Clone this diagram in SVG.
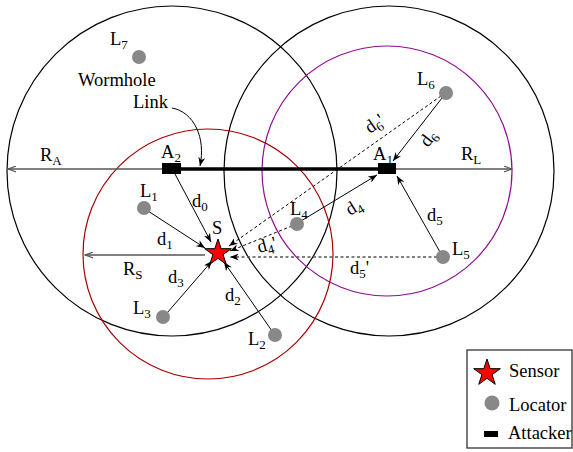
<svg xmlns="http://www.w3.org/2000/svg" width="573" height="452" viewBox="0 0 573 452">
<style>
text{font-family:"Liberation Serif","Times New Roman",serif;font-size:18.5px;fill:#000}
.sub{font-size:13px}
.ring{fill:none;stroke-width:1.2}
.loc{fill:#888}
.att{fill:#000}
.conn{stroke:#000;stroke-width:1;fill:none;marker-end:url(#arr)}
.dash{stroke:#000;stroke-width:1;fill:none;stroke-dasharray:3,2.5;marker-end:url(#arr)}
.radius{stroke:#555;stroke-width:1.5;fill:none;marker-end:url(#open)}
</style>
<defs>
<marker id="arr" viewBox="0 0 10 8" refX="10" refY="4" markerWidth="9" markerHeight="7" orient="auto" markerUnits="userSpaceOnUse">
<path d="M0,0 L10,4 L0,8 L3,4 Z" fill="#000"/>
</marker>
<marker id="open" viewBox="0 0 10 8" refX="9.5" refY="4" markerWidth="9" markerHeight="7" orient="auto" markerUnits="userSpaceOnUse">
<path d="M0,0.5 L9.5,4 L0,7.5" fill="none" stroke="#555" stroke-width="1.3"/>
</marker>
<path id="star" d="M0,-14 L3.14,-4.33 L13.31,-4.33 L5.09,1.65 L8.23,11.33 L0,5.35 L-8.23,11.33 L-5.09,1.65 L-13.31,-4.33 L-3.14,-4.33 Z" fill="#f00" stroke="#000" stroke-width="1"/>
</defs>
<rect width="573" height="452" fill="#fff"/>

<g id="ranges">
<circle class="ring" cx="172" cy="171" r="165" stroke="#000"/>
<circle class="ring" cx="389" cy="171" r="165" stroke="#000"/>
<circle class="ring" cx="387" cy="171" r="125" stroke="#8e108e"/>
<circle class="ring" cx="208" cy="254" r="125" stroke="#a80000"/>
</g>

<g id="connectors">
<line x1="170" y1="169" x2="8" y2="169" class="radius"/>
<line x1="390" y1="169" x2="512" y2="169" class="radius"/>
<line x1="205" y1="255" x2="85" y2="255" class="radius"/>
<line x1="172" y1="169" x2="387" y2="169" stroke="#000" stroke-width="3.5"/>
<path d="M172,108 C194,112 206,138 200,166" class="conn"/>
<line x1="175" y1="174" x2="211" y2="242" class="conn"/>
<line x1="148" y1="211" x2="205" y2="248" class="conn"/>
<line x1="167" y1="313" x2="212" y2="261" class="conn"/>
<line x1="272" y1="331" x2="224" y2="262" class="conn"/>
<line x1="441" y1="96" x2="229" y2="246" class="dash"/>
<line x1="292" y1="226" x2="230" y2="251" class="dash"/>
<line x1="437" y1="257" x2="230" y2="257" class="dash" style="stroke:#555;stroke-width:1.5"/>
<line x1="442" y1="98" x2="393" y2="161" class="conn"/>
<line x1="301" y1="221" x2="377" y2="175" class="conn"/>
<line x1="440" y1="252" x2="397" y2="176" class="conn"/>
</g>

<g id="A2"><rect x="162" y="163" width="19" height="11" class="att"/><text x="161" y="158">A<tspan class="sub" dy="4">2</tspan></text></g>
<g id="A1"><rect x="378" y="163" width="18" height="11" class="att"/><text x="373" y="160">A<tspan class="sub" dy="4">1</tspan></text></g>
<g id="S"><use href="#star" x="218" y="253"/><text x="212" y="234">S</text></g>
<g id="L7"><circle cx="139" cy="57" r="7" class="loc"/><text x="110" y="45">L<tspan class="sub" dy="4">7</tspan></text></g>
<g id="L1"><circle cx="144" cy="208" r="7" class="loc"/><text x="140" y="197">L<tspan class="sub" dy="4">1</tspan></text></g>
<g id="L6"><circle cx="446" cy="93" r="7" class="loc"/><text x="417" y="85">L<tspan class="sub" dy="4">6</tspan></text></g>
<g id="L4"><circle cx="297" cy="224" r="7" class="loc"/><text x="290" y="215">L<tspan class="sub" dy="4">4</tspan></text></g>
<g id="L5"><circle cx="443" cy="257" r="7" class="loc"/><text x="452" y="255">L<tspan class="sub" dy="4">5</tspan></text></g>
<g id="L3"><circle cx="163" cy="317" r="7" class="loc"/><text x="133" y="314">L<tspan class="sub" dy="4">3</tspan></text></g>
<g id="L2"><circle cx="275" cy="335" r="7" class="loc"/><text x="248" y="345">L<tspan class="sub" dy="4">2</tspan></text></g>

<g id="labels">
<text x="78" y="86">Wormhole</text>
<text x="133" y="108">Link</text>
<text x="40" y="161">R<tspan class="sub" dy="4">A</tspan></text>
<text x="461" y="160">R<tspan class="sub" dy="4">L</tspan></text>
<text x="123" y="275">R<tspan class="sub" dy="4">S</tspan></text>
<text x="192" y="207">d<tspan class="sub" dy="4">0</tspan></text>
<text x="157" y="245">d<tspan class="sub" dy="4">1</tspan></text>
<text x="168" y="283">d<tspan class="sub" dy="4">3</tspan></text>
<text x="225" y="301">d<tspan class="sub" dy="4">2</tspan></text>
<text x="427" y="221">d<tspan class="sub" dy="4">5</tspan></text>
<text x="350" y="274">d<tspan class="sub" dy="4">5</tspan><tspan dy="-4">'</tspan></text>
<text transform="translate(259,253) rotate(-15)">d<tspan class="sub" dy="4">4</tspan><tspan dy="-4">'</tspan></text>
<text transform="translate(350,216) rotate(-31)">d<tspan class="sub" dy="4">4</tspan></text>
<text transform="translate(428,148) rotate(-52)">d<tspan class="sub" dy="4">6</tspan></text>
<text transform="translate(370,134) rotate(-35)">d<tspan class="sub" dy="4">6</tspan><tspan dy="-4">'</tspan></text>
</g>

<g id="legend">
<rect x="467" y="350" width="105" height="98" fill="#fff" stroke="#333" stroke-width="1.3"/>
<use href="#star" x="487" y="373"/>
<circle cx="492" cy="403" r="7.5" class="loc"/>
<rect x="484" y="431" width="14" height="6" class="att"/>
<text x="509" y="377">Sensor</text>
<text x="509" y="411">Locator</text>
<text x="508" y="439">Attacker</text>
</g>
</svg>
